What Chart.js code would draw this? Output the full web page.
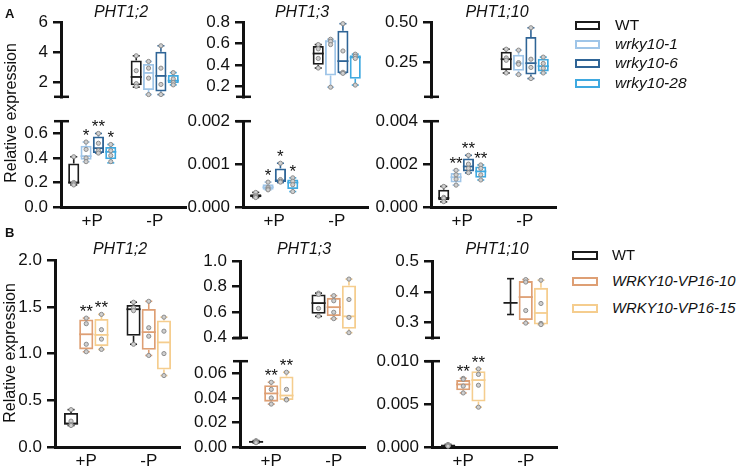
<!DOCTYPE html>
<html><head><meta charset="utf-8">
<script src="https://cdn.jsdelivr.net/npm/chart.js@4.4.1/dist/chart.umd.min.js"></script>
<style>
html,body{margin:0;padding:0;background:#fff}
body{width:750px;height:469px;position:relative;overflow:hidden;font-family:'Liberation Sans',Arial,Helvetica,sans-serif;color:#111}
canvas{position:absolute}
.t{position:absolute;white-space:nowrap;line-height:1}
.lb{position:absolute;box-sizing:border-box;border:2px solid #000;background:#fff}
</style></head><body>
<script>
// ---------------- DATA ----------------
const categories = ['+P', '-P'];
const genotypesA = ['WT', 'wrky10-1', 'wrky10-6', 'wrky10-28'];
const genotypesB = ['WT', 'WRKY10-VP16-10', 'WRKY10-VP16-15'];
const geneTitles = ['PHT1;2', 'PHT1;3', 'PHT1;10'];
const yTitle = 'Relative expression';

// box stats per genotype: [min, q1, median, q3, max]
const a12Plus  = [[0.18,0.19,0.20,0.355,0.41],[0.37,0.385,0.415,0.50,0.53],[0.44,0.44,0.48,0.575,0.60],[0.36,0.39,0.45,0.49,0.51]];
const a12Minus = [[1.65,1.77,2.33,3.44,3.75],[1.15,1.45,2.60,3.20,3.37],[1.15,1.36,2.40,4.02,4.42],[1.80,1.90,2.08,2.46,2.62]];
const a12PlusPts  = [[0.41,0.20,0.19,0.18],[0.53,0.47,0.40,0.37],[0.60,0.52,0.46,0.44],[0.51,0.46,0.42,0.37]];
const a12MinusPts = [[3.75,2.75,1.88,1.70],[3.37,2.92,2.25,1.15],[4.42,2.92,1.83,1.15],[2.62,2.20,1.95,1.80]];
const a12Sig = [['', '*', '**', '*'], ['', '', '', '']];

const a13Plus  = [[0.00022,0.00023,0.00026,0.00030,0.00034],[0.00040,0.00040,0.00046,0.00053,0.00058],[0.00057,0.00058,0.00062,0.00090,0.00102],[0.00036,0.00042,0.00057,0.00064,0.00068]];
const a13Minus = [[0.37,0.40,0.506,0.577,0.59],[0.19,0.30,0.62,0.63,0.64],[0.32,0.32,0.435,0.72,0.786],[0.21,0.27,0.47,0.49,0.50]];
const a13PlusPts  = [[0.00034,0.00026,0.00024,0.00022],[0.00058,0.00046,0.00042,0.00040],[0.00102,0.00064,0.00060,0.00058],[0.00068,0.00060,0.00052,0.00036]];
const a13MinusPts = [[0.59,0.55,0.46,0.37],[0.64,0.62,0.59,0.19],[0.786,0.53,0.33,0.32],[0.50,0.48,0.46,0.21]];
const a13Sig = [['', '*', '*', '*'], ['', '', '', '']];

const a110Plus  = [[0.00024,0.00031,0.00042,0.00081,0.00096],[0.00102,0.00114,0.00139,0.00159,0.00171],[0.00159,0.00166,0.00189,0.00226,0.00241],[0.00126,0.00136,0.00166,0.00189,0.00196]];
const a110Minus = [[0.18,0.198,0.267,0.314,0.33],[0.17,0.194,0.24,0.295,0.324],[0.145,0.17,0.242,0.407,0.465],[0.18,0.19,0.223,0.27,0.28]];
const a110PlusPts  = [[0.00096,0.00045,0.00040,0.00025],[0.00171,0.00150,0.00130,0.00102],[0.00241,0.00200,0.00180,0.00160],[0.00196,0.00180,0.00150,0.00126]];
const a110MinusPts = [[0.33,0.275,0.26,0.18],[0.324,0.245,0.235,0.17],[0.465,0.267,0.215,0.145],[0.28,0.24,0.21,0.18]];
const a110Sig = [['', '**', '**', '**'], ['', '', '', '']];

const b12Plus  = [[0.23,0.24,0.25,0.365,0.40],[1.02,1.045,1.207,1.365,1.38],[1.045,1.08,1.20,1.37,1.42]];
const b12Minus = [[1.10,1.19,1.475,1.52,1.55],[0.98,1.04,1.23,1.477,1.56],[0.765,0.83,1.12,1.355,1.39]];
const b12PlusPts  = [[0.40,0.277,0.24,0.23],[1.38,1.32,1.10,1.02],[1.42,1.256,1.155,1.045]];
const b12MinusPts = [[1.55,1.49,1.46,1.10],[1.56,1.277,1.186,0.98],[1.39,1.24,1.00,0.765]];
const b12Sig = [['', '**', '**'], ['', '', '']];

const b13Plus  = [[0.0033,0.0037,0.0042,0.0048,0.0052],[0.035,0.037,0.0437,0.0504,0.0528],[0.0384,0.0384,0.042,0.0576,0.061]];
const b13Minus = [[0.568,0.588,0.672,0.74,0.75],[0.55,0.57,0.64,0.713,0.73],[0.44,0.47,0.568,0.81,0.86]];
const b13PlusPts  = [[0.0052,0.0045,0.0040,0.0035],[0.0528,0.047,0.040,0.035],[0.061,0.047,0.0388,0.0384]];
const b13MinusPts = [[0.75,0.74,0.63,0.57],[0.73,0.69,0.60,0.55],[0.86,0.70,0.56,0.44]];
const b13Sig = [['', '**', '**'], ['', '', '']];

const b110Plus  = [[0.0001,0.00012,0.00016,0.00022,0.0003],[0.0063,0.0066,0.0073,0.0078,0.0080],[0.00464,0.0053,0.0078,0.00884,0.0091]];
const b110Minus = [[0.326,0.364,0.364,0.364,0.443],[0.298,0.308,0.383,0.435,0.44],[0.293,0.293,0.331,0.413,0.438]];
const b110PlusPts  = [[0.0003,0.0002,0.00015,0.0001],[0.0080,0.0079,0.0071,0.0063],[0.0091,0.00846,0.0072,0.00464]];
const b110MinusPts = [[],[0.44,0.432,0.339,0.298],[0.438,0.362,0.297,0.293]];
const b110Sig = [['', '**', '**'], ['', '', '']];

// tick labels
const a12UpTicks = ['2','4','6'];
const a12LowTicks = ['0.0','0.2','0.4','0.6'];
const a13UpTicks = ['0.2','0.4','0.6','0.8'];
const a13LowTicks = ['0.000','0.001','0.002'];
const a110UpTicks = ['0.25','0.50'];
const a110LowTicks = ['0.000','0.002','0.004'];
const b12Ticks = ['0.0','0.5','1.0','1.5','2.0'];
const b13UpTicks = ['0.4','0.6','0.8','1.0'];
const b13LowTicks = ['0.00','0.02','0.04','0.06'];
const b110UpTicks = ['0.3','0.4','0.5'];
const b110LowTicks = ['0.000','0.005','0.010'];

// ---------------- STYLE / LAYOUT ----------------
const FONT = "'Liberation Sans', Arial, Helvetica, sans-serif";
const INK = '#111111';
const colorsA = ['#1c1c1c', '#9fc5e8', '#2e6496', '#3fa9e0'];
const colorsB = ['#1c1c1c', '#de9f74', '#f5cd8e'];
Chart.defaults.font.family = FONT;

const panels = [
  {genes:0, axisX:61, genotypes:genotypesA, colors:colorsA, catPct:0.79, barPct:0.9,
   stats:[a12Plus,a12Minus], pts:[a12PlusPts,a12MinusPts], sig:a12Sig,
   segs:[{kind:'up',top:19,bottom:100,min:1,max:6,ticks:a12UpTicks},{kind:'low',top:118,bottom:207,min:0,max:0.7,ticks:a12LowTicks}]},
  {genes:1, axisX:243, genotypes:genotypesA, colors:colorsA, catPct:0.79, barPct:0.9,
   stats:[a13Plus,a13Minus], pts:[a13PlusPts,a13MinusPts], sig:a13Sig,
   segs:[{kind:'up',top:19,bottom:100,min:0.1,max:0.8,ticks:a13UpTicks},{kind:'low',top:118,bottom:207,min:0,max:0.002,ticks:a13LowTicks}]},
  {genes:2, axisX:431, genotypes:genotypesA, colors:colorsA, catPct:0.79, barPct:0.9,
   stats:[a110Plus,a110Minus], pts:[a110PlusPts,a110MinusPts], sig:a110Sig,
   segs:[{kind:'up',top:19,bottom:100,min:0.03,max:0.5,ticks:a110UpTicks},{kind:'low',top:118,bottom:207,min:0,max:0.004,ticks:a110LowTicks}]},
  {genes:0, axisX:55, genotypes:genotypesB, colors:colorsB, catPct:0.73, barPct:0.93,
   stats:[b12Plus,b12Minus], pts:[b12PlusPts,b12MinusPts], sig:b12Sig,
   segs:[{kind:'single',top:257,bottom:447,min:0,max:2,ticks:b12Ticks}]},
  {genes:1, axisX:240, genotypes:genotypesB, colors:colorsB, catPct:0.73, barPct:0.93,
   stats:[b13Plus,b13Minus], pts:[b13PlusPts,b13MinusPts], sig:b13Sig,
   segs:[{kind:'up',top:258,bottom:341,min:0.4,max:1.0,ticks:b13UpTicks},{kind:'low',top:358,bottom:447,min:0,max:0.07,ticks:b13LowTicks}]},
  {genes:2, axisX:432, genotypes:genotypesB, colors:colorsB, catPct:0.73, barPct:0.93,
   stats:[b110Plus,b110Minus], pts:[b110PlusPts,b110MinusPts], sig:b110Sig,
   segs:[{kind:'up',top:258,bottom:341,min:0.25,max:0.5,ticks:b110UpTicks},{kind:'low',top:358,bottom:447,min:0,max:0.010,ticks:b110LowTicks}]}
];

function line(ctx, x1, y1, x2, y2){ ctx.beginPath(); ctx.moveTo(x1,y1); ctx.lineTo(x2,y2); ctx.stroke(); }

function makeChart(p, seg, idx){
  const W = 125, LEFT = 60, PAD = 12, XH = 30;
  const showX = seg.kind !== 'up';
  const h = (seg.bottom - seg.top) + PAD + (showX ? XH : PAD);
  const cw = LEFT + W + PAD;
  const cv = document.createElement('canvas');
  cv.width = cw; cv.height = h;
  cv.style.left = (p.axisX - LEFT) + 'px';
  cv.style.top = (seg.top - PAD) + 'px';
  cv.style.width = cw + 'px'; cv.style.height = h + 'px';
  document.body.appendChild(cv);
  const inSeg = s => s[2] >= seg.min && s[2] <= seg.max;
  const datasets = p.genotypes.map((g, i) => ({
    label: g,
    data: p.stats.map(cond => inSeg(cond[i]) ? [cond[i][1], cond[i][3]] : null),
    backgroundColor: 'rgba(255,255,255,0)',
    borderColor: p.colors[i],
    borderWidth: 1.8,
    borderSkipped: false,
    categoryPercentage: p.catPct,
    barPercentage: p.barPct
  }));
  const detail = {
    id: 'boxDetail' + idx,
    afterDatasetsDraw(chart){
      const ctx = chart.ctx, ys = chart.scales.y, a = chart.chartArea;
      chart.data.datasets.forEach((ds, i) => {
        const meta = chart.getDatasetMeta(i);
        meta.data.forEach((el, j) => {
          const s = p.stats[j][i];
          if (!inSeg(s)) return;
          const x = el.x, w = el.width, col = p.colors[i];
          const py = v => ys.getPixelForValue(v);
          ctx.save();
          ctx.strokeStyle = col; ctx.lineWidth = 1.8; ctx.lineCap = 'butt';
          line(ctx, x - w/2, py(s[2]), x + w/2, py(s[2]));
          ctx.lineWidth = 1.6;
          line(ctx, x, py(s[3]), x, py(s[4]));
          line(ctx, x, py(s[1]), x, py(s[0]));
          line(ctx, x - 3.5, py(s[4]), x + 3.5, py(s[4]));
          line(ctx, x - 3.5, py(s[0]), x + 3.5, py(s[0]));
          ctx.fillStyle = '#cfcfcf'; ctx.strokeStyle = '#8c8c8c'; ctx.lineWidth = 1;
          p.pts[j][i].forEach(v => {
            ctx.beginPath(); ctx.arc(x, py(v), 2.1, 0, Math.PI*2); ctx.fill(); ctx.stroke();
          });
          const sg = p.sig[j][i];
          if (sg) {
            ctx.fillStyle = INK; ctx.font = '17px ' + FONT;
            ctx.textAlign = 'center'; ctx.textBaseline = 'alphabetic';
            ctx.fillText(sg, x, py(s[4]) - 1);
          }
          ctx.restore();
        });
      });
      // axis break marks
      ctx.save(); ctx.strokeStyle = INK; ctx.lineWidth = 2.5;
      if (seg.kind === 'up') line(ctx, a.left - 7, a.bottom, a.left + 8, a.bottom);
      if (seg.kind === 'low') line(ctx, a.left - 7, a.top, a.left + 8, a.top);
      ctx.restore();
    }
  };
  new Chart(cv, {
    type: 'bar',
    data: { labels: categories, datasets },
    options: {
      responsive: false, animation: false,
      layout: { padding: { left: 0, right: PAD, top: PAD, bottom: showX ? 0 : PAD } },
      plugins: { legend: { display: false }, tooltip: { enabled: false } },
      scales: {
        x: {
          display: showX,
          grid: { display: false, drawTicks: false },
          border: { display: true, width: 3, color: INK },
          ticks: { color: INK, font: { size: 17, family: FONT }, padding: 4, maxRotation: 0, autoSkip: false },
          afterFit: s => { s.height = showX ? XH : 0; }
        },
        y: {
          min: seg.min, max: seg.max,
          afterFit: s => { s.width = LEFT; },
          afterBuildTicks: s => { s.ticks = seg.ticks.map(t => ({ value: parseFloat(t) })); },
          ticks: { callback: (v, i) => seg.ticks[i], color: INK, font: { size: 17, family: FONT }, padding: 5, autoSkip: false },
          grid: { display: true, drawOnChartArea: false, drawTicks: true, tickLength: 8, lineWidth: 2.5, color: INK },
          border: { display: true, width: 3, color: INK }
        }
      }
    },
    plugins: [detail]
  });
}

let n = 0;
panels.forEach(p => p.segs.forEach(seg => makeChart(p, seg, n++)));

// ---------------- TEXT ----------------
function addText(txt, x, y, size, o){
  o = o || {};
  const d = document.createElement('div');
  d.className = 't';
  d.textContent = txt;
  d.style.fontSize = size + 'px';
  if (o.italic) d.style.fontStyle = 'italic';
  if (o.bold) d.style.fontWeight = 'bold';
  d.style.left = x + 'px'; d.style.top = y + 'px';
  let tf = o.left ? 'translate(0,-50%)' : 'translate(-50%,-50%)';
  if (o.rot) tf += ' rotate(-90deg)';
  d.style.transform = tf;
  document.body.appendChild(d);
}
addText('A', 5, 13, 13, {bold:true, left:true});
addText('B', 5, 232, 13, {bold:true, left:true});
[121, 302, 497].forEach((x, i) => addText(geneTitles[i], x, 12, 16, {italic:true}));
[120, 304, 497].forEach((x, i) => addText(geneTitles[i], x, 249, 16, {italic:true}));
addText(yTitle, 11, 113, 16, {rot:true});
addText(yTitle, 10, 353, 16, {rot:true});

function addLegend(names, colors, bx, tx, ys, bw, size){
  names.forEach((nm, i) => {
    const b = document.createElement('div');
    b.className = 'lb';
    b.style.left = bx + 'px'; b.style.top = (ys[i] - 4.5) + 'px';
    b.style.width = bw + 'px'; b.style.height = '9px';
    b.style.borderColor = colors[i];
    document.body.appendChild(b);
    addText(nm, tx, ys[i], size, {left:true, italic: i > 0});
  });
}
addLegend(genotypesA, colorsA, 575, 615, [25, 44, 63, 83], 25, 15.5);
addLegend(genotypesB, colorsB, 572, 612, [255, 281, 308], 26, 14.8);
</script>
</body></html>
